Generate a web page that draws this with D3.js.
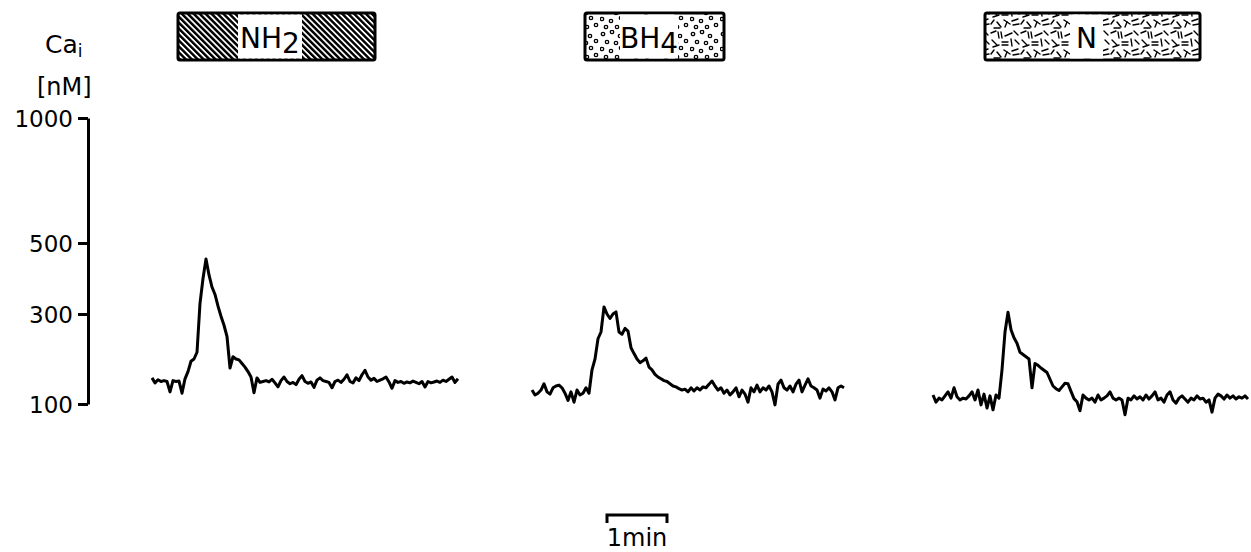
<!DOCTYPE html>
<html>
<head>
<meta charset="utf-8">
<script src="https://cdn.jsdelivr.net/npm/d3@7/dist/d3.min.js"></script>
<style>
  body { margin: 0; background: #fff; }
  svg { display: block; }
  text { font-family: "DejaVu Sans", sans-serif; fill: #000; }
</style>
</head>
<body>
<svg id="chart" width="1251" height="552"></svg>
<script>

////////////// DATA

// y axis (Ca i, nM) - the calibration is not linear, so each tick has its own place
var yTicks = [100, 300, 500, 1000];

// recordings, one value every 3 s, first sample time in s
var sampleStep = 3;
var traceStart = [65, 445, 846];

var traceNH2 = [158,147,154,150,152,150,127,152,150,151,
    124,156,172,195,200,215,330,400,455,410,
    376,355,322,295,275,250,180,205,200,198,
    190,182,172,160,125,158,148,150,152,149,
    155,147,138,152,160,150,145,148,143,155,
    163,150,146,149,137,153,158,152,150,148,
    136,150,153,148,155,165,150,147,158,152,
    165,175,160,153,157,150,153,156,160,149,
    135,152,148,150,146,149,147,151,148,145,
    150,138,150,147,149,151,148,153,150,155,
    160,148,156];

var traceBH4 = [131,120,124,131,145,127,122,136,140,142,
    136,124,108,127,104,131,120,124,136,124,
    176,200,245,260,320,300,290,300,306,260,
    255,268,262,225,212,200,192,196,202,182,
    176,166,160,156,152,150,145,140,138,134,
    131,133,127,136,129,136,131,138,136,144,
    151,140,131,136,124,131,120,127,136,116,
    131,122,104,136,127,142,127,136,131,140,
    127,98,144,153,136,131,140,127,144,153,
    127,142,156,140,136,131,113,133,129,136,
    127,109,136,140,136];

var traceN = [120,104,113,109,118,127,113,136,116,109,
    113,111,118,127,109,131,98,122,91,118,
    87,120,113,176,260,305,265,247,235,215,
    210,205,200,136,190,186,180,175,170,155,
    140,134,130,138,146,145,128,112,105,85,
    120,113,109,113,104,120,109,113,118,127,
    113,109,113,109,76,113,109,118,111,116,
    109,120,111,118,127,109,113,104,120,127,
    109,102,113,118,111,104,113,109,118,111,
    113,104,109,82,113,122,118,111,120,113,
    118,111,116,113,118,111];

var traces = [traceNH2, traceBH4, traceN];

// drug applications (s): box start/end and the gap left for the label
var stimMain = ["NH", "BH", "N"];
var stimSub = ["2", "4", ""];
var stimOn = [91, 498, 898];
var stimOff = [288, 637, 1113];
var labelOn = [151, 533, 983];
var labelOff = [215, 591, 1016];

// time scale bar
var scaleBarStart = 520;
var scaleBarLength = 60;

////////////// SETUP

var svg = d3.select("#chart");

var x = d3.scaleLinear()
    .domain([0, 1164])
    .range([87, 1251]);

var y = d3.scaleLinear()
    .domain(yTicks)
    .range([404, 314, 243, 118]);

var defs = svg.append("defs");

// hatching for NH2
var hatch = defs.append("pattern")
    .attr("id", "hatch")
    .attr("patternUnits", "userSpaceOnUse")
    .attr("width", 4.2)
    .attr("height", 4.2)
    .attr("patternTransform", "rotate(-45)");
hatch.append("rect").attr("width", 4.2).attr("height", 4.2).style("fill", "#fff");
hatch.append("line")
    .attr("x1", 1.2).attr("x2", 1.2)
    .attr("y1", 0).attr("y2", 4.2)
    .style("stroke", "#000")
    .style("stroke-width", 2.5);

// small rings for BH4
var ringPos = [[3,4],[12,2],[20,6],[7,12],[16,13],[2,19],[11,21],[21,18],[26,11],[26,25],[6,27],[17,27]];
var rings = defs.append("pattern")
    .attr("id", "rings")
    .attr("patternUnits", "userSpaceOnUse")
    .attr("width", 30)
    .attr("height", 30);
rings.append("rect").attr("width", 30).attr("height", 30).style("fill", "#fff");
rings.selectAll("circle")
    .data(ringPos)
    .enter()
    .append("circle")
    .attr("cx", function (d) { return d[0]; })
    .attr("cy", function (d) { return d[1]; })
    .attr("r", 1.7)
    .style("fill", "#fff")
    .style("stroke", "#000")
    .style("stroke-width", 1.3);

// short straw strokes for N
var strawSeg = [[1,3,6,1],[8,2,9,8],[11,2,12,8],[15,6,22,3],[24,1,28,5],
    [2,10,7,15],[3,17,9,15],[12,12,18,12],[12,15,18,15],[21,9,22,16],
    [25,10,29,14],[1,24,4,20],[7,22,11,27],[14,20,20,24],[22,21,28,19],
    [23,25,29,24],[4,28,10,28],[15,27,17,22]];
var straw = defs.append("pattern")
    .attr("id", "straw")
    .attr("patternUnits", "userSpaceOnUse")
    .attr("width", 30)
    .attr("height", 30);
straw.append("rect").attr("width", 30).attr("height", 30).style("fill", "#fff");
straw.selectAll("line")
    .data(strawSeg)
    .enter()
    .append("line")
    .attr("x1", function (d) { return d[0]; })
    .attr("y1", function (d) { return d[1]; })
    .attr("x2", function (d) { return d[2]; })
    .attr("y2", function (d) { return d[3]; })
    .style("stroke", "#000")
    .style("stroke-width", 1.4)
    .style("stroke-linecap", "round");

var fills = ["url(#hatch)", "url(#rings)", "url(#straw)"];

////////////// Y AXIS

var yAxis = d3.axisLeft(y)
    .tickValues(yTicks)
    .tickSize(10)
    .tickSizeOuter(0)
    .tickPadding(5)
    .tickFormat(d3.format("d"));

var axisG = svg.append("g")
    .attr("transform", "translate(88,0)")
    .call(yAxis);

axisG.select(".domain").style("stroke", "#000").style("stroke-width", 3);
axisG.selectAll(".tick line").style("stroke", "#000").style("stroke-width", 3);
axisG.selectAll(".tick text")
    .style("font-family", "'DejaVu Sans', sans-serif")
    .style("font-size", "23px")
    .attr("dy", "0.36em");

// axis title
var caLabel = svg.append("text")
    .attr("x", 45)
    .attr("y", 53)
    .style("font-size", "25px");
caLabel.append("tspan").text("Ca");
caLabel.append("tspan").attr("dy", 4).style("font-size", "17px").text("i");

svg.append("text")
    .attr("x", 37)
    .attr("y", 95)
    .style("font-size", "24px")
    .text("[nM]");

////////////// TRACES

var line = d3.line()
    .x(function (d) { return x(d.t); })
    .y(function (d) { return y(d.v); });

traces.forEach(function (vals, k) {
    var pts = vals.map(function (v, i) { return { t: traceStart[k] + i * sampleStep, v: v }; });
    svg.append("path")
        .datum(pts)
        .attr("d", line)
        .style("fill", "none")
        .style("stroke", "#000")
        .style("stroke-width", 3)
        .style("stroke-linejoin", "round");
});

////////////// STIMULUS BOXES

var boxTop = 13, boxBottom = 60;

stimMain.forEach(function (name, k) {
    var g = svg.append("g");
    g.append("rect")
        .attr("x", x(stimOn[k]))
        .attr("y", boxTop)
        .attr("width", x(stimOff[k]) - x(stimOn[k]))
        .attr("height", boxBottom - boxTop)
        .attr("rx", 2)
        .style("fill", fills[k])
        .style("stroke", "#000")
        .style("stroke-width", 3);

    g.append("rect")
        .attr("x", x(labelOn[k]))
        .attr("y", boxTop + 1.5)
        .attr("width", x(labelOff[k]) - x(labelOn[k]))
        .attr("height", boxBottom - boxTop - 3)
        .style("fill", "#fff");

    var t = g.append("text")
        .attr("x", (x(labelOn[k]) + x(labelOff[k])) / 2)
        .attr("y", boxBottom - 12)
        .style("text-anchor", "middle")
        .style("font-size", "28px");
    t.append("tspan").text(name);
    if (stimSub[k]) {
        t.append("tspan").attr("dy", 5).text(stimSub[k]);
    }
});

////////////// SCALE BAR

var sb0 = x(scaleBarStart), sb1 = x(scaleBarStart + scaleBarLength);

svg.append("path")
    .attr("d", "M" + sb0 + ",523V515H" + sb1 + "V523")
    .style("fill", "none")
    .style("stroke", "#000")
    .style("stroke-width", 3);

svg.append("text")
    .attr("x", (sb0 + sb1) / 2)
    .attr("y", 546)
    .style("text-anchor", "middle")
    .style("font-size", "24px")
    .text("1min");

</script>
</body>
</html>
